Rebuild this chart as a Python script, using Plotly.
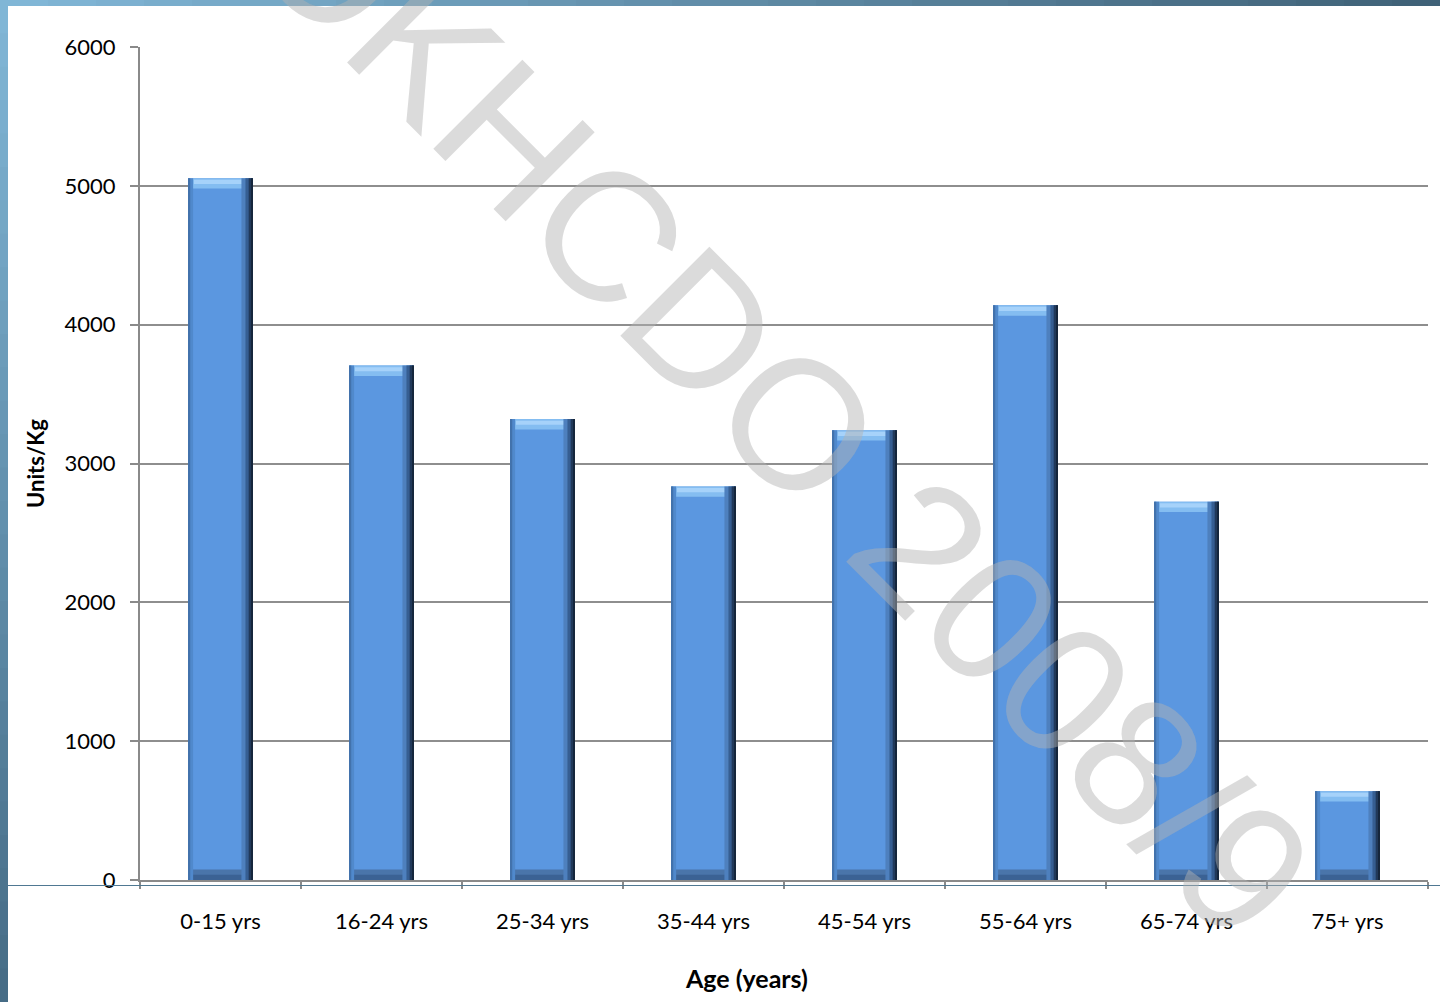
import plotly.graph_objects as go

# ---- data ----
categories = ["0-15 yrs", "16-24 yrs", "25-34 yrs", "35-44 yrs",
              "45-54 yrs", "55-64 yrs", "65-74 yrs", "75+ yrs"]
units_per_kg = [5055, 3705, 3320, 2835, 3240, 4140, 2725, 640]
y_ticks = [0, 1000, 2000, 3000, 4000, 5000, 6000]
y_tick_labels = ["0", "1000", "2000", "3000", "4000", "5000", "6000"]
x_title = "Age (years)"
y_title = "Units/Kg"
watermark = "OKHCDO 2008/9"

W, H = 1440, 1002
L, R, T, B = 140, 12, 47, 122
PW, PH = W - L - R, H - T - B


def px_x(p):
    return (p - L) / PW


def px_y(p):
    return (H - B - p) / PH


BAR_W = 0.40
HALF = BAR_W / 2
bevel = 75  # bevel depth in data units (~10 px)

fig = go.Figure()

def bar(y, offset, width, color, base=None):
    fig.add_trace(go.Bar(
        x=categories, y=y, base=base, offset=offset, width=width,
        marker=dict(color=color, line=dict(width=0)),
        hoverinfo="skip", showlegend=False))

# main body
bar(units_per_kg, -HALF, BAR_W, "#5B97E0")
# top bevel (light)
bar([bevel] * len(units_per_kg), -HALF, BAR_W, "#84BDF1",
    base=[v - bevel for v in units_per_kg])
bar([bevel * 0.4] * len(units_per_kg), -HALF + 0.035, BAR_W - 0.07, "#A6D2FA",
    base=[v - bevel * 0.55 for v in units_per_kg])
# bottom bevel (dark)
bar([bevel] * len(units_per_kg), -HALF, BAR_W, "#4A75AA", base=[0] * len(units_per_kg))
bar([bevel * 0.5] * len(units_per_kg), -HALF, BAR_W, "#3B6294", base=[0] * len(units_per_kg))
# left edge
bar(units_per_kg, -HALF, 0.03, "#5089CC")
bar(units_per_kg, -HALF, 0.012, "#4272AC")
# right edge shadow
bar(units_per_kg, HALF - 0.07, 0.07, "#4E80BE")
bar(units_per_kg, HALF - 0.045, 0.045, "#365E92")
bar(units_per_kg, HALF - 0.025, 0.025, "#21395A")
bar(units_per_kg, HALF - 0.01, 0.01, "#15263C")

shapes = []
# slide frame: left band (vertical gradient) and top band (horizontal gradient)
def lerp(c1, c2, t):
    return "rgb(%d,%d,%d)" % tuple(round(a + (b - a) * t) for a, b in zip(c1, c2))

n = 30
top_c, bot_c = (128, 182, 214), (70, 108, 134)
for i in range(n):
    y0 = i * H / n
    y1 = (i + 1) * H / n + 1
    shapes.append(dict(type="rect", xref="paper", yref="paper",
                       x0=px_x(0), x1=px_x(8), y0=px_y(y0), y1=px_y(y1),
                       fillcolor=lerp(top_c, bot_c, i / (n - 1)), line=dict(width=0), layer="above"))
left_c, right_c = (128, 182, 214), (64, 98, 120)
for i in range(n):
    x0 = i * W / n
    x1 = (i + 1) * W / n + 1
    shapes.append(dict(type="rect", xref="paper", yref="paper",
                       x0=px_x(x0), x1=px_x(x1), y0=px_y(0), y1=px_y(6),
                       fillcolor=lerp(left_c, right_c, i / (n - 1)), line=dict(width=0), layer="above"))
# thin slide rule just below the axis
shapes.append(dict(type="line", xref="paper", yref="paper",
                   x0=px_x(8), x1=px_x(W), y0=px_y(885.5), y1=px_y(885.5),
                   line=dict(color="#4F7892", width=1), layer="above"))

annotations = [
    dict(text=watermark, xref="paper", yref="paper",
         x=px_x(781), y=px_y(406), xanchor="center", yanchor="middle",
         textangle=45, showarrow=False,
         font=dict(family="Liberation Sans", size=183, color="rgba(178,178,178,0.47)")),
    dict(text="<b>%s</b>" % x_title, xref="paper", yref="paper",
         x=px_x(746), y=px_y(978), xanchor="center", yanchor="middle",
         showarrow=False,
         font=dict(family="Lato", size=25, color="black")),
]

fig.update_layout(
    width=W, height=H,
    margin=dict(l=L, r=R, t=T, b=B, pad=0),
    paper_bgcolor="white", plot_bgcolor="white",
    barmode="overlay",
    showlegend=False,
    font=dict(family="Lato", color="black"),
    shapes=shapes,
    annotations=annotations,
    xaxis=dict(
        type="category", showgrid=False, zeroline=False,
        showline=True, linecolor="#8A8A8A", linewidth=2,
        ticks="outside", tickson="boundaries", ticklen=7, tickcolor="#8A8A8A", tickwidth=2,
        ticklabelstandoff=21,
        tickfont=dict(size=22, family="Lato", color="black"),
        range=[-0.5, len(categories) - 0.5],
    ),
    yaxis=dict(
        range=[0, 6000], tickvals=y_ticks, ticktext=y_tick_labels,
        showgrid=True, gridcolor="#8E8E8E", gridwidth=2, zeroline=False,
        showline=True, linecolor="#8A8A8A", linewidth=2,
        ticks="outside", ticklen=8, tickcolor="#8A8A8A", tickwidth=2,
        ticklabelstandoff=10,
        tickfont=dict(size=22, family="Lato", color="black"),
        title=dict(text="<b>%s</b>" % y_title, font=dict(size=22, family="Lato", color="black"), standoff=14),
    ),
)

fig.write_html("out.html", config={"displayModeBar": False},
               post_script="document.body.style.margin='0px';")
